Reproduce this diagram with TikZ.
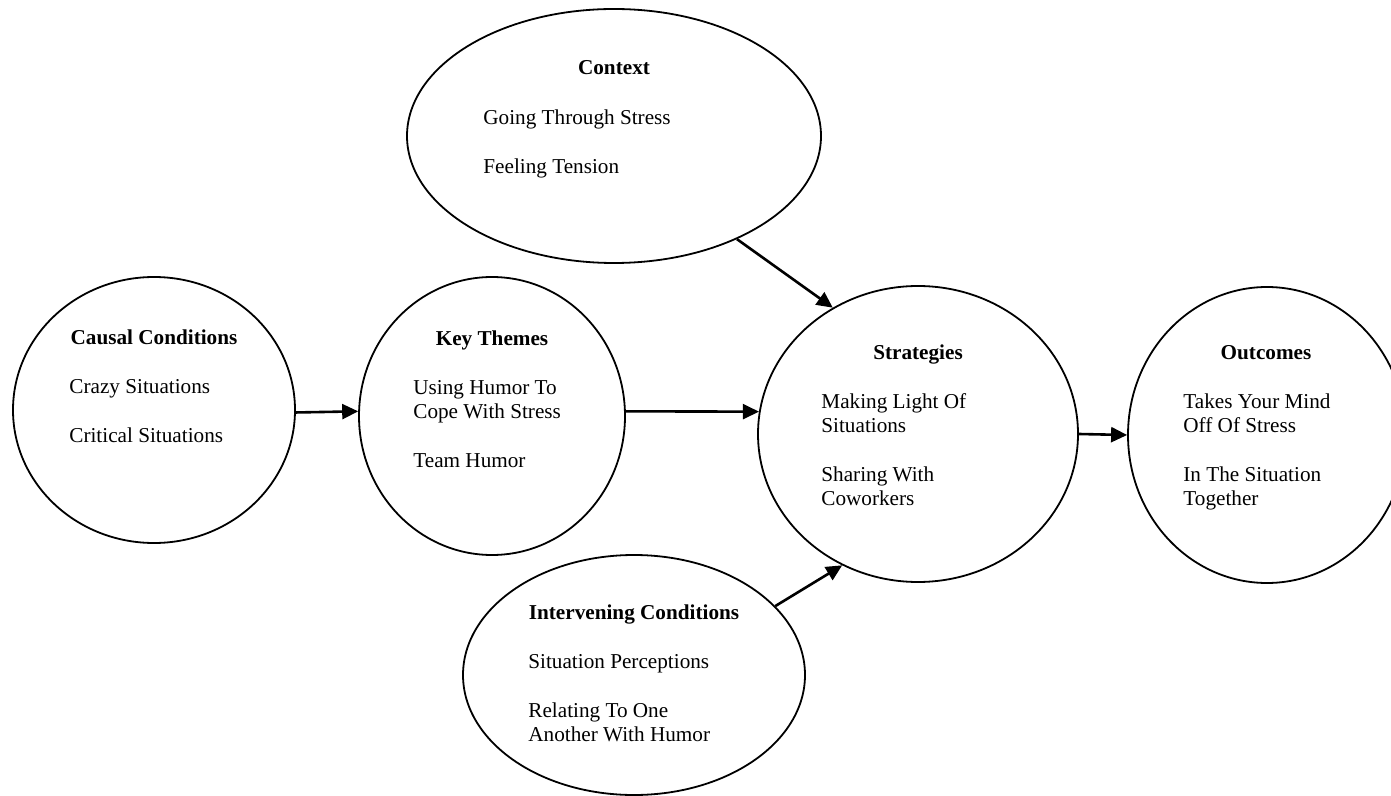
\documentclass[tikz,border=0pt]{standalone}
\usepackage{fontspec}
\setmainfont{Liberation Serif}
\usetikzlibrary{arrows.meta, shapes, positioning, calc}

\begin{document}
\begin{tikzpicture}[x = 0.5pt, y = -0.5pt,
		bubble/.style = {draw, ellipse, line width = 0.9pt, inner sep = 0pt},
		heading/.style = {anchor = base, inner sep = 0pt, font = \fontsize{10.6}{12}\selectfont\bfseries},
		items/.style = {anchor = north west, inner sep = 0pt, align = left, font = \fontsize{10.6}{12}\selectfont},
		link/.style = {line width = 1.3pt, -{Triangle[length = 8pt, width = 7.5pt]}}]
		\clip (0, 0) rectangle (1391, 796);

		\node [bubble, minimum width = 141pt, minimum height = 133pt] (causal) at (154, 410) {};
		\node [bubble, minimum width = 133pt, minimum height = 139pt] (key) at (492, 416) {};
		\node [bubble, minimum width = 207pt, minimum height = 127pt] (context) at (614, 136) {};
		\node [bubble, minimum width = 160pt, minimum height = 148pt] (strat) at (918, 434) {};
		\node [bubble, minimum width = 139pt, minimum height = 148pt] (outcome) at (1267, 435) {};
		\node [bubble, minimum width = 171pt, minimum height = 120pt] (interv) at (634, 675) {};

		\node [heading] (causalTitle) at (154, 345) {Causal Conditions};
		\node [items] (causalText) at (69, 379.5) {Crazy Situations\\[12.5pt]Critical Situations};

		\node [heading] (keyTitle) at (492, 346) {Key Themes};
		\node [items] (keyText) at (413, 380.5) {Using Humor To\\Cope With Stress\\[12.5pt]Team Humor};

		\node [heading] (contextTitle) at (614, 75) {Context};
		\node [items] (contextText) at (483, 109.5) {Going Through Stress\\[12.5pt]Feeling Tension};

		\node [heading] (stratTitle) at (918, 359) {Strategies};
		\node [items] (stratText) at (821, 393.5) {Making Light Of\\Situations\\[12.5pt]Sharing With\\Coworkers};

		\node [heading] (outcomeTitle) at (1266, 359) {Outcomes};
		\node [items] (outcomeText) at (1183, 393.5) {Takes Your Mind\\Off Of Stress\\[12.5pt]In The Situation\\Together};

		\node [heading] (intervTitle) at (634, 619) {Intervening Conditions};
		\node [items] (intervText) at (528, 654.5) {Situation Perceptions\\[12.5pt]Relating To One\\Another With Humor};

		\draw [link] (causal.-1) -- (key.178);
		\draw [link] (key.2) -- (strat.172);
		\draw [link] (context.-40) -- (strat.124);
		\draw [link] (interv.26) -- (strat.240);
		\draw [link] (strat.0) -- (outcome.180);
	\end{tikzpicture}
\end{document}
